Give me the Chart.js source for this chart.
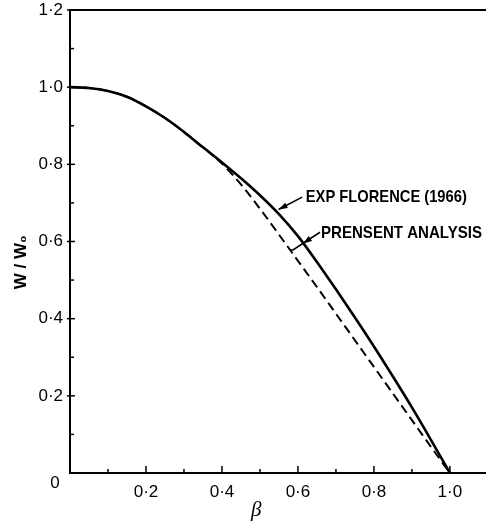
<!DOCTYPE html>
<html>
<head>
<meta charset="utf-8">
<script src="https://cdn.jsdelivr.net/npm/chart.js@4.4.1/dist/chart.umd.min.js"></script>
<style>
  html, body { margin: 0; padding: 0; background: #fff; }
  #wrap { width: 486px; height: 526px; position: relative; }
</style>
</head>
<body>
<div id="wrap"><canvas id="c" width="486" height="526"></canvas></div>
<script>
// ---- data ----
const betaValues = [0, 0.05, 0.1, 0.15, 0.2, 0.25, 0.3, 0.35, 0.4, 0.45, 0.5,
                    0.55, 0.6, 0.65, 0.7, 0.75, 0.8, 0.85, 0.9, 0.95, 1.0];
const expFlorence = [1.0, 0.998, 0.99, 0.975, 0.95, 0.92, 0.884, 0.844, 0.805, 0.764, 0.72,
                     0.671, 0.614, 0.547, 0.476, 0.403, 0.328, 0.25, 0.17, 0.086, 0];
const presentAnalysis = [1.0, 0.998, 0.99, 0.975, 0.95, 0.92, 0.884, 0.844, 0.802, 0.748, 0.685,
                         0.618, 0.55, 0.482, 0.413, 0.344, 0.275, 0.206, 0.137, 0.068, 0];
const xTickLabels = {2: '0·2', 4: '0·4', 6: '0·6', 8: '0·8', 10: '1·0'};
const yTickLabels = {2: '0·2', 4: '0·4', 6: '0·6', 8: '0·8', 10: '1·0', 12: '1·2'};
const seriesNames = ['EXP FLORENCE (1966)', 'PRENSENT ANALYSIS'];
const yTitle = 'W / W₀';
const xTitle = 'β';

const toPts = vals => betaValues.map((b, i) => ({x: b, y: vals[i]}));

const FONT = '"Liberation Sans", Arial, sans-serif';

const decor = {
  id: 'decor',
  afterDraw(chart) {
    const {ctx, chartArea: a, scales: {x, y}} = chart;
    ctx.save();
    ctx.strokeStyle = '#000';
    ctx.fillStyle = '#000';
    // top frame line
    ctx.lineWidth = 2;
    ctx.beginPath(); ctx.moveTo(a.left - 1, a.top); ctx.lineTo(a.right, a.top); ctx.stroke();
    // inward ticks on x
    ctx.lineWidth = 1.5;
    x.ticks.forEach(t => {
      const k = Math.round(t.value * 10);
      if (Math.abs(t.value * 10 - k) > 1e-6 || k === 0) return;
      const px = x.getPixelForValue(t.value);
      const len = k % 2 === 0 ? 7 : 4;
      ctx.beginPath(); ctx.moveTo(px, a.bottom); ctx.lineTo(px, a.bottom - len); ctx.stroke();
    });
    // ticks on y
    y.ticks.forEach(t => {
      const k = Math.round(t.value * 10);
      if (Math.abs(t.value * 10 - k) > 1e-6 || k === 0) return;
      const py = y.getPixelForValue(t.value);
      ctx.beginPath();
      if (k % 2 === 0) { ctx.moveTo(a.left - 3, py); ctx.lineTo(a.left + 5, py); }
      else { ctx.moveTo(a.left, py); ctx.lineTo(a.left + 4, py); }
      ctx.stroke();
    });
    // origin label "0"
    ctx.font = '17px ' + FONT;
    ctx.textAlign = 'center';
    ctx.textBaseline = 'middle';
    ctx.fillText('0', x.getPixelForValue(0) - 15, y.getPixelForValue(0) + 10);
    // x title
    ctx.font = 'italic 21px "Liberation Serif", "DejaVu Serif", serif';
    ctx.fillText(xTitle, x.getPixelForValue(0.49), 510);
    // y title
    ctx.save();
    ctx.translate(21, y.getPixelForValue(0.546));
    ctx.rotate(-Math.PI / 2);
    ctx.font = 'bold 17px ' + FONT;
    ctx.fillText(yTitle, 0, 0);
    ctx.restore();
    // annotations
    const P = (bx, vy) => [x.getPixelForValue(bx), y.getPixelForValue(vy)];
    const arrowHead = (tip, from) => {
      const dx = tip[0] - from[0], dy = tip[1] - from[1];
      const L = Math.hypot(dx, dy), ux = dx / L, uy = dy / L;
      const len = 9, w = 3;
      ctx.beginPath();
      ctx.moveTo(tip[0], tip[1]);
      ctx.lineTo(tip[0] - ux * len - uy * w, tip[1] - uy * len + ux * w);
      ctx.lineTo(tip[0] - ux * len + uy * w, tip[1] - uy * len - ux * w);
      ctx.closePath(); ctx.fill();
    };
    ctx.lineWidth = 1.6;
    // EXP FLORENCE leader
    let s = P(0.611, 0.715), e = P(0.549, 0.683);
    ctx.beginPath(); ctx.moveTo(s[0], s[1]); ctx.lineTo(e[0], e[1]); ctx.stroke();
    arrowHead(e, s);
    // PRESENT leader
    s = P(0.658, 0.624); e = P(0.587, 0.578);
    ctx.beginPath(); ctx.moveTo(s[0], s[1]); ctx.lineTo(e[0], e[1]); ctx.lineTo(e[0] - 3, e[1]); ctx.stroke();
    arrowHead(P(0.613, 0.595), s);
    // label texts
    ctx.textAlign = 'left';
    ctx.textBaseline = 'middle';
    ctx.font = 'bold 17px "Liberation Sans Narrow", ' + FONT;
    let p = P(0.618, 0.715);
    ctx.fillText(seriesNames[0], p[0] + 1, p[1], 161);
    p = P(0.658, 0.622);
    ctx.fillText(seriesNames[1], p[0] + 1, p[1], 161);
    ctx.restore();
  }
};

new Chart(document.getElementById('c'), {
  type: 'line',
  data: {
    datasets: [
      {
        label: seriesNames[0],
        data: toPts(expFlorence),
        borderColor: '#000',
        borderWidth: 2.6,
        pointRadius: 0,
        fill: false,
        cubicInterpolationMode: 'monotone'
      },
      {
        label: seriesNames[1],
        data: toPts(presentAnalysis),
        borderColor: '#000',
        borderWidth: 2,
        borderDash: [9, 5],
        pointRadius: 0,
        fill: false,
        cubicInterpolationMode: 'monotone'
      }
    ]
  },
  options: {
    responsive: false,
    animation: false,
    devicePixelRatio: 1,
    layout: {padding: {top: 10, right: 0, left: 0, bottom: 0}},
    plugins: {legend: {display: false}, tooltip: {enabled: false}},
    scales: {
      x: {
        type: 'linear',
        min: 0,
        max: 1.095,
        afterFit(scale) { scale.height = 53; scale.paddingLeft = 0; scale.paddingRight = 0; },
        grid: {display: false, drawTicks: false},
        border: {display: true, color: '#000', width: 2},
        ticks: {
          stepSize: 0.1,
          includeBounds: false,
          autoSkip: false,
          maxRotation: 0,
          padding: 9,
          color: '#000',
          font: {family: FONT, size: 17},
          callback: v => { const k = Math.round(v * 10); return Math.abs(v * 10 - k) < 1e-6 && xTickLabels[k] ? xTickLabels[k] : ''; }
        }
      },
      y: {
        type: 'linear',
        min: 0,
        max: 1.2,
        afterFit(scale) { scale.width = 70; scale.paddingTop = 0; scale.paddingBottom = 0; },
        grid: {display: false, drawTicks: false},
        border: {display: true, color: '#000', width: 2},
        ticks: {
          stepSize: 0.1,
          includeBounds: false,
          autoSkip: false,
          padding: 7,
          color: '#000',
          font: {family: FONT, size: 17},
          callback: v => { const k = Math.round(v * 10); return Math.abs(v * 10 - k) < 1e-6 && yTickLabels[k] ? yTickLabels[k] : ''; }
        }
      }
    }
  },
  plugins: [decor]
});
</script>
</body>
</html>
